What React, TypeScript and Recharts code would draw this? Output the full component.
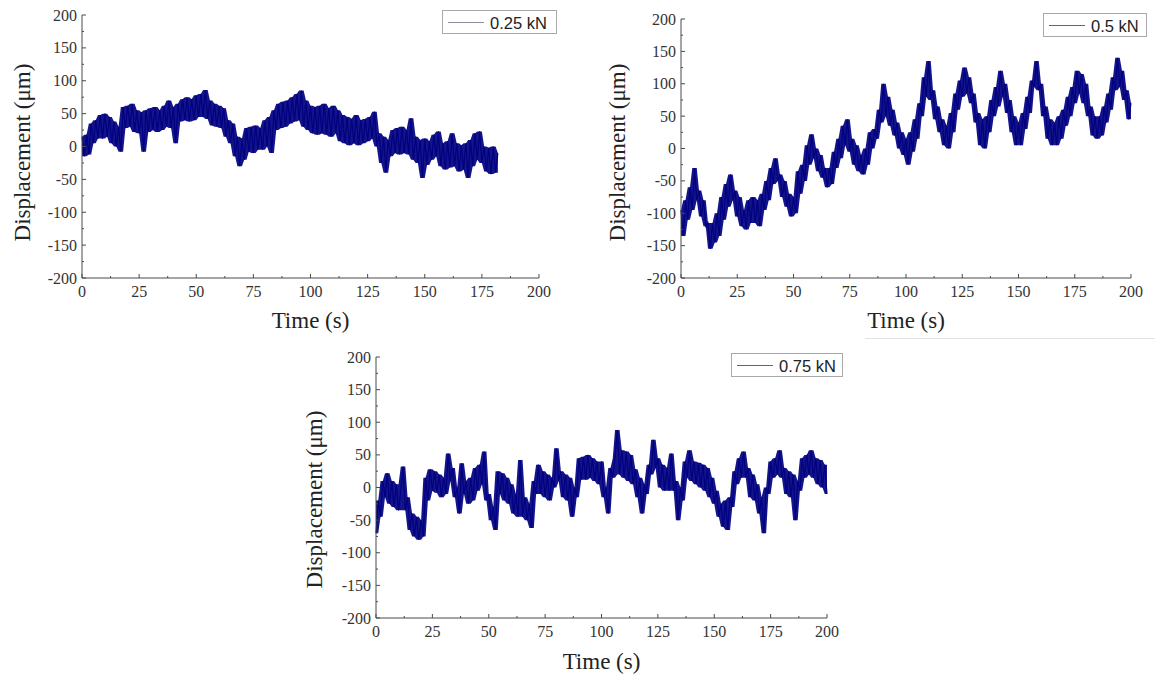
import { ComposedChart, Area, Line, XAxis, YAxis, Legend } from 'recharts';

// Displacement traces at three loads at 1 s spacing.
// Consecutive samples alternate between the top and bottom of the noise band.
const SAMPLE_STEP_S = 1;

const disp025 = [
  15, -15, 18, -12, 35, 5, 40, 12, 48, 12,
  50, 15, 45, 5, 38, 0, 30, -8, 60, 28,
  62, 30, 65, 22, 55, 20, 52, -8, 55, 22,
  58, 25, 60, 22, 55, 25, 62, 30, 70, 28,
  60, 5, 65, 38, 72, 40, 75, 38, 72, 40,
  78, 45, 80, 45, 86, 42, 70, 32, 65, 30,
  62, 28, 58, 15, 40, 5, 35, -15, 15, -30,
  12, -20, 28, -8, 30, -10, 32, -5, 28, -5,
  40, 0, 45, -10, 55, 25, 65, 28, 68, 30,
  70, 35, 75, 38, 80, 40, 85, 30, 70, 25,
  62, 20, 60, 18, 62, 20, 65, 18, 58, 15,
  62, 20, 55, 8, 48, 5, 45, 2, 42, 5,
  48, 2, 40, 5, 42, 8, 45, 12, 53, 0,
  20, -25, 15, -40, 10, -15, 25, -10, 28, -12,
  30, -10, 25, -12, 43, -20, 15, -25, 10, -48,
  12, -28, 8, -20, 18, -15, 23, -30, 5, -35,
  8, -32, 20, -30, 5, -38, 2, -35, 5, -48,
  10, -30, 20, -20, 23, -25, 0, -38, -2, -42,
  0, -40, -10,
];

const disp05 = [
  -95, -135, -80, -110, -60, -95, -30, -80, -65, -105,
  -80, -120, -115, -155, -115, -145, -100, -135, -75, -110,
  -55, -90, -40, -80, -65, -105, -75, -120, -95, -125,
  -80, -115, -75, -115, -80, -120, -70, -95, -50, -80,
  -30, -55, -15, -50, -40, -75, -50, -90, -70, -105,
  -75, -100, -35, -70, -25, -50, 5, -25, 22, -15,
  0, -35, -10, -45, -30, -60, -30, -55, -5, -30,
  15, -15, 35, 5, 45, -5, 15, -25, 5, -35,
  -10, -40, 0, -25, 25, 0, 30, 15, 60, 40,
  100, 50, 80, 35, 60, 20, 40, 0, 25, -10,
  15, -25, 25, -5, 45, 15, 70, 50, 110, 80,
  135, 75, 90, 45, 65, 25, 45, 5, 35, 0,
  55, 25, 85, 60, 105, 80, 125, 85, 110, 70,
  85, 40, 55, 5, 45, 0, 50, 25, 75, 50,
  95, 65, 120, 80, 100, 55, 75, 25, 50, 5,
  40, 5, 55, 30, 80, 55, 105, 95, 135, 90,
  100, 50, 65, 15, 45, 5, 40, 5, 50, 15,
  60, 35, 80, 50, 95, 70, 120, 85, 115, 70,
  100, 50, 65, 20, 50, 15, 50, 20, 65, 40,
  85, 60, 110, 90, 140, 95, 120, 75, 90, 45,
  70,
];

const disp075 = [
  -70, -20, -45, 10, -15, 22, -25, 10, -30, 5,
  -35, -5, 32, -35, -15, -65, -40, -75, -45, -80,
  -50, -75, 15, -20, 28, -5, 25, -8, 20, -15,
  15, -10, 52, 10, 30, -15, 0, -40, 37, -10,
  10, -25, 15, -20, 30, -5, 35, 5, 55, -20,
  -10, -50, -30, -65, 25, -10, 22, -20, 15, -25,
  5, -40, -10, -45, 42, -45, -15, -50, -25, -62,
  10, -10, 35, -10, 25, -15, 20, -20, 15, 0,
  60, 10, 25, -15, 20, -20, 15, -45, 0, -15,
  45, 12, 47, 12, 50, 15, 45, 10, 40, 5,
  40, -15, 0, -40, 30, 15, 45, 88, 20, 57,
  15, 55, 10, 50, 5, 28, -15, 15, -40, 5,
  -10, 35, 20, 73, 30, 45, 0, 35, -5, 30,
  -5, 52, -5, 10, -50, 0, -20, 40, 15, 57,
  10, 40, 5, 38, 0, 35, -5, 30, -15, 15,
  -25, -5, -45, -25, -60, -20, -65, -15, -30, 25,
  5, 45, 15, 55, 15, 30, -15, 20, -20, 5,
  -40, -15, -70, 0, -10, 40, 15, 45, 20, 57,
  15, 30, -10, 25, -15, 20, -50, 10, -5, 45,
  15, 50, 20, 57, 15, 45, 5, 42, 0, 35,
  -10,
];

// Axis ticks: labelled every 25 s / 50 μm, unlabelled minor ticks between.
const xTicks = [0, 12.5, 25, 37.5, 50, 62.5, 75, 87.5, 100, 112.5, 125, 137.5, 150, 162.5, 175, 187.5, 200];
const yTicks = [-200, -175, -150, -125, -100, -75, -50, -25, 0, 25, 50, 75, 100, 125, 150, 175, 200];

const NAVY = '#000080';
const AXIS = '#4a4a4a';
const SERIF = "'Liberation Serif', 'Times New Roman', serif";
const SANS = "'Liberation Sans', Arial, sans-serif";

// Each row carries the raw sample plus the local band (min/max of the sample
// and its neighbours) so the dense noise reads as a filled trace.
const toRows = (values: number[]) =>
  values.map((v, i) => {
    const win = values.slice(Math.max(0, i - 1), i + 2);
    return { t: i * SAMPLE_STEP_S, v, band: [Math.min(...win), Math.max(...win)] };
  });

function XTick(props: any) {
  const { x, y, payload } = props;
  const major = payload.value % 25 === 0;
  return (
    <g>
      <line x1={x} x2={x} y1={y} y2={y - (major ? 4 : 2)} stroke={AXIS} />
      {major && (
        <text x={x} y={y + 19} textAnchor="middle" fontFamily={SERIF} fontSize={16} fill="#333">
          {payload.value}
        </text>
      )}
    </g>
  );
}

function YTick(props: any) {
  const { x, y, payload } = props;
  const major = payload.value % 50 === 0;
  return (
    <g>
      <line x1={x} x2={x + (major ? 4 : 2)} y1={y} y2={y} stroke={AXIS} />
      {major && (
        <text x={x - 5} y={y + 5.5} textAnchor="end" fontFamily={SERIF} fontSize={16} fill="#333">
          {payload.value}
        </text>
      )}
    </g>
  );
}

interface ChartProps {
  values: number[];
  name: string;
  left: number;
  top: number;
  width: number;
  height: number;
  margin: { top: number; right: number; left: number; bottom: number };
  yAxisWidth: number;
  xAxisHeight: number;
  yTitle: { x: number; dy: number };
  xTitleBaseline: number;
  legend: { left: number; top: number; width: number; stroke: string };
}

function DisplacementChart(p: ChartProps) {
  const rows = toRows(p.values);
  return (
    <div style={{ position: 'absolute', left: p.left, top: p.top }}>
      <ComposedChart width={p.width} height={p.height} data={rows} margin={p.margin}>
        <XAxis
          dataKey="t"
          type="number"
          domain={[0, 200]}
          ticks={xTicks}
          interval={0}
          height={p.xAxisHeight}
          axisLine={{ stroke: AXIS }}
          tickLine={false}
          tickSize={0}
          tickMargin={0}
          tick={<XTick />}
          label={{
            content: (lp: any) => {
              const vb = lp.viewBox;
              return (
                <text
                  x={vb.x + vb.width / 2}
                  y={vb.y + p.xTitleBaseline}
                  textAnchor="middle"
                  fontFamily={SERIF}
                  fontSize={23}
                  fill="#222"
                >
                  Time (s)
                </text>
              );
            },
          }}
        />
        <YAxis
          type="number"
          domain={[-200, 200]}
          ticks={yTicks}
          interval={0}
          width={p.yAxisWidth}
          axisLine={{ stroke: AXIS }}
          tickLine={false}
          tickSize={0}
          tickMargin={0}
          tick={<YTick />}
          label={{
            content: (lp: any) => {
              const vb = lp.viewBox;
              const cx = vb.x + p.yTitle.x;
              const cy = vb.y + vb.height / 2 + p.yTitle.dy;
              return (
                <text
                  x={cx}
                  y={cy}
                  transform={`rotate(-90 ${cx} ${cy})`}
                  textAnchor="middle"
                  fontFamily={SERIF}
                  fontSize={23}
                  fill="#222"
                >
                  Displacement (μm)
                </text>
              );
            },
          }}
        />
        <Legend
          layout="horizontal"
          verticalAlign="middle"
          align="center"
          wrapperStyle={{ position: 'absolute', left: p.legend.left, top: p.legend.top, width: p.legend.width, height: 24 }}
          content={({ payload }: any) => (
            <div
              style={{
                boxSizing: 'border-box',
                position: 'relative',
                width: p.legend.width,
                height: 24,
                border: '1px solid #a9a9a9',
                background: '#fff',
                fontFamily: SANS,
                fontSize: 16.5,
                color: '#222',
              }}
            >
              <span
                style={{ position: 'absolute', left: 5, top: 11, width: 36, borderTop: `1px solid ${p.legend.stroke}` }}
              />
              <span style={{ position: 'absolute', left: 47, top: 2, lineHeight: '20px', whiteSpace: 'nowrap' }}>
                {payload?.find((e: any) => e.value === p.name)?.value ?? p.name}
              </span>
            </div>
          )}
        />
        <Area
          type="linear"
          dataKey="band"
          legendType="none"
          fill={NAVY}
          fillOpacity={0.92}
          stroke="none"
          isAnimationActive={false}
        />
        <Line
          type="linear"
          dataKey="v"
          name={p.name}
          stroke={NAVY}
          strokeWidth={1.2}
          dot={false}
          isAnimationActive={false}
        />
      </ComposedChart>
    </div>
  );
}

export default function App() {
  return (
    <div style={{ position: 'absolute', left: 0, top: 0, width: 1155, height: 676, background: '#fff', overflow: 'hidden' }}>
      <DisplacementChart
        values={disp025}
        name="0.25 kN"
        left={0}
        top={0}
        width={560}
        height={340}
        margin={{ top: 15, right: 21, left: 0, bottom: 0 }}
        yAxisWidth={82}
        xAxisHeight={62}
        yTitle={{ x: 30, dy: 6 }}
        xTitleBaseline={50}
        legend={{ left: 442, top: 10, width: 115, stroke: '#8e8e9a' }}
      />
      <DisplacementChart
        values={disp05}
        name="0.5 kN"
        left={600}
        top={0}
        width={555}
        height={340}
        margin={{ top: 19, right: 24, left: 0, bottom: 0 }}
        yAxisWidth={81}
        xAxisHeight={62}
        yTitle={{ x: 25, dy: 4 }}
        xTitleBaseline={50}
        legend={{ left: 443, top: 13, width: 104, stroke: '#5c5ca8' }}
      />
      <div style={{ position: 'absolute', left: 865, top: 338, width: 290, height: 0, borderTop: '1px solid #e2e2e2' }} />
      <DisplacementChart
        values={disp075}
        name="0.75 kN"
        left={290}
        top={340}
        width={560}
        height={336}
        margin={{ top: 17, right: 23, left: 0, bottom: 0 }}
        yAxisWidth={86}
        xAxisHeight={58}
        yTitle={{ x: 32, dy: 12 }}
        xTitleBaseline={51}
        legend={{ left: 441, top: 13, width: 112, stroke: '#5c5ca8' }}
      />
    </div>
  );
}
